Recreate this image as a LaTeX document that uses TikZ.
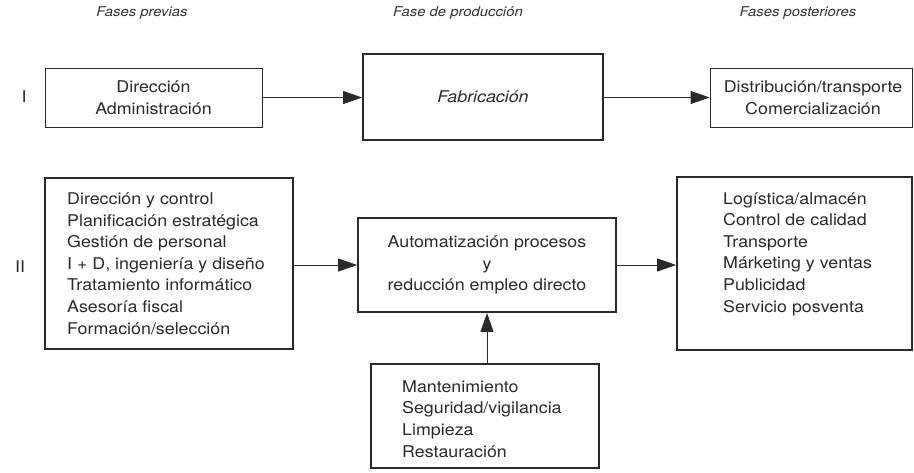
\documentclass[tikz,border=0pt]{standalone}
\usepackage{fontspec}
\setmainfont[FakeStretch=1.1]{TeX Gyre Heros}
\usetikzlibrary{arrows.meta}
\definecolor{ink}{HTML}{2A2A2A}
\definecolor{head}{HTML}{333333}
\begin{document}
\begin{tikzpicture}[x=1pt,y=-1pt,
  thinbox/.style={draw=ink,line width=0.9pt,inner sep=0pt,anchor=center},
  thickbox/.style={draw=ink,line width=1.8pt,inner sep=0pt,anchor=center},
  txt/.style={text=ink,font=\fontsize{16.2}{21.6}\selectfont,inner sep=0pt},
  hdr/.style={text=head,font=\fontsize{13.5}{16}\selectfont\itshape,inner sep=0pt},
  conn/.style={draw=ink,line width=0.9pt,-{Triangle[length=19pt,width=13pt]}}]
\useasboundingbox (0,0) rectangle (914,472);
% headers
\node[hdr] (h1) at (142,13) {Fases previas};
\node[hdr] (h2) at (458,13) {Fase de producción};
\node[hdr] (h3) at (798,13) {Fases posteriores};
% row labels
\node[txt] (r1) at (24,97) {I};
\node[txt] (r2) at (20,267) {II};
% row I
\node[thinbox,minimum width=217pt,minimum height=59pt,txt,align=center] (a) at (153.5,97.5) {Dirección\\Administración};
\node[thickbox,minimum width=240pt,minimum height=86pt,txt,font=\fontsize{16.2}{21.6}\selectfont\itshape] (fab) at (483,97) {Fabricación};
\node[thinbox,minimum width=202pt,minimum height=59pt] (dist) at (811,97.5) {};
\node[txt,align=center] (distt) at (813,98) {Distribución/transporte\\Comercialización};
\draw[conn] (a.east) -- (a.east -| fab.west);
\draw[conn] (fab.east |- dist.west) -- (dist.west);
% row II
\node[thickbox,minimum width=248pt,minimum height=171pt] (l) at (169,263.5) {};
\node[txt,align=left,anchor=west] (lt) at (67,263.5) {Dirección y control\\Planificación estratégica\\Gestión de personal\\I + D, ingeniería y diseño\\Tratamiento informático\\Asesoría fiscal\\Formación/selección};
\node[thickbox,minimum width=258pt,minimum height=94pt,txt,align=center] (c) at (487,265) {Automatización procesos\\y\\reducción empleo directo};
\node[thickbox,minimum width=235pt,minimum height=173pt] (r) at (794.5,263.5) {};
\node[txt,align=left,anchor=west] (rt) at (723,254) {Logística/almacén\\Control de calidad\\Transporte\\Márketing y ventas\\Publicidad\\Servicio posventa};
\node[thickbox,minimum width=228pt,minimum height=104pt] (b) at (485,416) {};
\node[txt,align=left,anchor=west] (bt) at (402,419) {Mantenimiento\\Seguridad/vigilancia\\Limpieza\\Restauración};
\draw[conn] (l.east |- c.west) -- (c.west);
\draw[conn] (c.east) -- (c.east -| r.west);
\draw[conn] (b.north -| c.south) -- (c.south);
\end{tikzpicture}
\end{document}
